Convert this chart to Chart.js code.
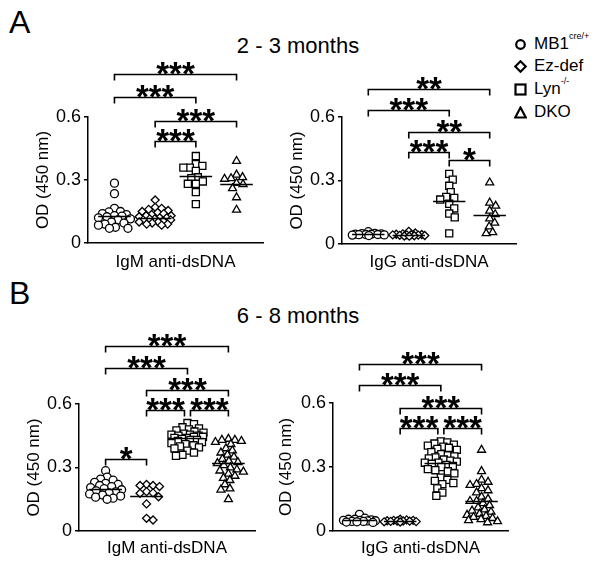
<!DOCTYPE html>
<html><head><meta charset="utf-8">
<script src="https://cdn.jsdelivr.net/npm/chart.js@4.4.0/dist/chart.umd.min.js"></script>
<style>
html,body{margin:0;padding:0;background:#fff;}
body{width:602px;height:564px;position:relative;overflow:hidden;font-family:"Liberation Sans",Arial,sans-serif;color:#000;}
canvas{position:absolute;}
.lbl{position:absolute;line-height:1;white-space:nowrap;}
.panel{font-size:32px;}
.title{font-size:22px;width:220px;text-align:center;}
.leg{position:absolute;left:514px;height:20px;display:flex;align-items:center;font-size:17px;white-space:nowrap;}
.leg svg{width:13px;height:13px;margin-right:7px;flex:none;}
.leg sup{font-size:9px;position:relative;top:-2px;vertical-align:top;line-height:1;}
</style></head>
<body>
<div class="lbl panel" style="left:9px;top:6px">A</div>
<div class="lbl panel" style="left:9px;top:277px">B</div>
<div class="lbl title" style="left:188px;top:35px">2 - 3 months</div>
<div class="lbl title" style="left:188px;top:305px">6 - 8 months</div>

<div class="leg" style="top:34px"><svg viewBox="0 0 13 13"><circle cx="6.5" cy="6.5" r="4.3" fill="#fff" stroke="#000" stroke-width="2.2"/></svg><span>MB1<sup>cre/+</sup></span></div>
<div class="leg" style="top:56px"><svg viewBox="0 0 13 13"><polygon points="6.5,1.3 11.7,6.5 6.5,11.7 1.3,6.5" fill="#fff" stroke="#000" stroke-width="2.2"/></svg><span>Ez-def</span></div>
<div class="leg" style="top:79px"><svg viewBox="0 0 13 13"><rect x="1.5" y="1.5" width="10" height="10" fill="#fff" stroke="#000" stroke-width="2.2"/></svg><span>Lyn<sup>-/-</sup></span></div>
<div class="leg" style="top:102px"><svg viewBox="0 0 13 13"><polygon points="6.5,1.5 11.8,11.5 1.2,11.5" fill="#fff" stroke="#000" stroke-width="2.2" stroke-linejoin="miter"/></svg><span>DKO</span></div>

<canvas id="cAL" width="300" height="235" style="left:0px;top:50px"></canvas>
<canvas id="cAR" width="300" height="235" style="left:254px;top:50px"></canvas>
<canvas id="cBL" width="300" height="244" style="left:0px;top:320px"></canvas>
<canvas id="cBR" width="300" height="244" style="left:250px;top:320px"></canvas>

<script>
// ---------------- DATA ----------------
const groups = ['MB1cre/+', 'Ez-def', 'Lyn-/-', 'DKO'];
const yTicks = [0, 0.3, 0.6];

// 2 - 3 months, IgM anti-dsDNA
const a_igm_mb1 = [0.285, 0.235, 0.165, 0.15, 0.148, 0.14, 0.135, 0.13, 0.128, 0.125, 0.12, 0.115, 0.11, 0.10, 0.095, 0.09, 0.085, 0.075, 0.07, 0.07];
const a_igm_ez  = [0.205, 0.17, 0.165, 0.16, 0.155, 0.15, 0.145, 0.14, 0.135, 0.13, 0.13, 0.125, 0.12, 0.12, 0.115, 0.115, 0.11, 0.11, 0.105, 0.10, 0.10, 0.095, 0.09, 0.09, 0.085];
const a_igm_lyn = [0.414, 0.375, 0.367, 0.359, 0.359, 0.343, 0.313, 0.309, 0.293, 0.282, 0.282, 0.242, 0.185];
const a_igm_dko = [0.39, 0.325, 0.313, 0.308, 0.305, 0.285, 0.28, 0.26, 0.217, 0.158];
const a_igm_medians = [0.13, 0.12, 0.32, 0.28];
const a_igm_brackets = [[1, 4, 0.804, '***'], [1, 3, 0.695, '***'], [2, 4, 0.581, '***'], [2, 3, 0.486, '***']];

// 2 - 3 months, IgG anti-dsDNA
const a_igg_mb1 = [0.058, 0.05, 0.049, 0.048, 0.047, 0.046, 0.045, 0.045, 0.044, 0.043, 0.042, 0.04];
const a_igg_ez  = [0.06, 0.052, 0.048, 0.046, 0.045, 0.044, 0.043, 0.043, 0.042, 0.041, 0.04, 0.039, 0.038, 0.037];
const a_igg_lyn = [0.331, 0.304, 0.275, 0.245, 0.222, 0.218, 0.21, 0.19, 0.168, 0.144, 0.126, 0.05];
const a_igg_dko = [0.29, 0.195, 0.18, 0.157, 0.14, 0.12, 0.10, 0.082, 0.055, 0.05];
const a_igg_medians = [0.045, 0.043, 0.205, 0.137];
const a_igg_brackets = [[1, 4, 0.732, '**'], [1, 3, 0.633, '***'], [2, 4, 0.529, '**'], [2, 3, 0.435, '***'], [3, 4, 0.397, '*']];

// 6 - 8 months, IgM anti-dsDNA
const b_igm_mb1 = [0.285, 0.255, 0.245, 0.24, 0.23, 0.225, 0.22, 0.215, 0.21, 0.205, 0.20, 0.195, 0.19, 0.185, 0.18, 0.175, 0.17, 0.165, 0.16, 0.155, 0.15];
const b_igm_ez  = [0.22, 0.215, 0.215, 0.21, 0.186, 0.18, 0.178, 0.162, 0.128, 0.06, 0.052];
const b_igm_lyn = [0.51, 0.505, 0.49, 0.485, 0.48, 0.475, 0.47, 0.465, 0.46, 0.455, 0.455, 0.45, 0.45, 0.445, 0.445, 0.44, 0.44, 0.435, 0.43, 0.43, 0.425, 0.42, 0.415, 0.41, 0.405, 0.40, 0.395, 0.39, 0.38, 0.37, 0.36, 0.355];
const b_igm_dko = [0.435, 0.43, 0.43, 0.425, 0.42, 0.41, 0.39, 0.38, 0.37, 0.36, 0.35, 0.34, 0.33, 0.325, 0.32, 0.31, 0.30, 0.29, 0.285, 0.28, 0.27, 0.26, 0.25, 0.24, 0.22, 0.20, 0.195, 0.15];
const b_igm_medians = [0.20, 0.165, 0.44, 0.32];
const b_igm_brackets = [[1, 4, 0.874, '***'], [1, 3, 0.77, '***'], [2, 4, 0.666, '***'], [2, 3, 0.572, '***'], [3, 4, 0.572, '***'], [1, 2, 0.34, '*']];

// 6 - 8 months, IgG anti-dsDNA
const b_igg_mb1 = [0.078, 0.06, 0.055, 0.055, 0.052, 0.05, 0.05, 0.048, 0.047, 0.045, 0.045, 0.043, 0.042, 0.04];
const b_igg_ez  = [0.055, 0.052, 0.05, 0.05, 0.048, 0.047, 0.047, 0.046, 0.045, 0.044, 0.043, 0.042];
const b_igg_lyn = [0.42, 0.415, 0.41, 0.405, 0.40, 0.395, 0.39, 0.385, 0.38, 0.37, 0.36, 0.355, 0.35, 0.345, 0.34, 0.335, 0.33, 0.325, 0.32, 0.32, 0.315, 0.31, 0.305, 0.30, 0.29, 0.285, 0.28, 0.27, 0.25, 0.24, 0.235, 0.225, 0.22, 0.20, 0.18, 0.165];
const b_igg_dko = [0.38, 0.28, 0.24, 0.23, 0.22, 0.215, 0.20, 0.19, 0.18, 0.16, 0.15, 0.14, 0.14, 0.13, 0.12, 0.11, 0.10, 0.095, 0.09, 0.08, 0.075, 0.07, 0.065, 0.06, 0.055, 0.05, 0.045, 0.04];
const b_igg_medians = [0.05, 0.047, 0.32, 0.14];
const b_igg_brackets = [[1, 4, 0.783, '***'], [1, 3, 0.684, '***'], [2, 4, 0.577, '***'], [2, 3, 0.483, '***'], [3, 4, 0.483, '***']];

// ---------------- LAYOUT / STYLE ----------------
const FONT = '"Liberation Sans", Arial, Helvetica, sans-serif';
const STAR_FONT = 'bold 33px "Liberation Sans", Arial, sans-serif';
const X_MIN = 0.35, X_MAX = 4.65;
const POINT_STYLES = ['circle', 'rectRot', 'rect', 'triangle'];
const POINT_RADII = [4, 4, 5, 4.6];

// canvas box + plot-area box (page coordinates)
const LAYOUT = {
  cAL: {cx: 0,   cy: 50,  cw: 300, ch: 235, l: 88,  t: 117, r: 263, b: 243, ytx: 43,  xty: 262},
  cAR: {cx: 254, cy: 50,  cw: 300, ch: 235, l: 342, t: 117, r: 516, b: 244, ytx: 297, xty: 262},
  cBL: {cx: 0,   cy: 320, cw: 300, ch: 244, l: 79,  t: 404, r: 255, b: 531, ytx: 34,  xty: 548},
  cBR: {cx: 250, cy: 320, cw: 300, ch: 244, l: 333, t: 403, r: 508, b: 531, ytx: 286, xty: 548}
};

// beeswarm-like horizontal spreading of points (computed, not typed)
function swarm(values, pxPerX, pxPerY, minD, maxOff) {
  const idx = values.map((v, i) => i).sort((a, b) => values[b] - values[a]);
  const placed = [];
  const off = new Array(values.length).fill(0);
  const cands = [0];
  for (let k = 0.5; k <= maxOff; k += 0.5) { cands.push(k, -k); }
  for (const i of idx) {
    const py = values[i] * pxPerY;
    let best = 0, bestScore = -1;
    for (const c of cands) {
      let md = Infinity;
      for (const p of placed) {
        const d = Math.hypot(p[0] - c, p[1] - py);
        if (d < md) md = d;
      }
      if (md >= minD) { best = c; break; }
      if (md > bestScore) { bestScore = md; best = c; }
    }
    placed.push([best, py]);
    off[i] = best / pxPerX;
  }
  return off;
}

const annotPlugin = {
  id: 'annot',
  afterDatasetsDraw(chart, args, opts) {
    const {ctx, scales: {x, y}} = chart;
    ctx.save();
    ctx.strokeStyle = '#000';
    ctx.lineWidth = 1.4;
    opts.medians.forEach((m, i) => {
      const yy = Math.round(y.getPixelForValue(m)) + 0.5;
      ctx.beginPath();
      ctx.moveTo(x.getPixelForValue(i + 1 - 0.4), yy);
      ctx.lineTo(x.getPixelForValue(i + 1 + 0.4), yy);
      ctx.stroke();
    });
    ctx.restore();
  },
  afterDraw(chart, args, opts) {
    const {ctx, scales: {x, y}} = chart;
    const br = opts.brackets;
    ctx.save();
    ctx.strokeStyle = '#000';
    ctx.fillStyle = '#000';
    ctx.lineWidth = 1.6;
    ctx.lineJoin = 'miter';
    br.forEach((b) => {
      const [from, to, lvl, label] = b;
      let x1 = x.getPixelForValue(from);
      let x2 = x.getPixelForValue(to);
      if (br.some(o => o !== b && o[2] === lvl && o[0] === to)) x2 -= 3;
      if (br.some(o => o !== b && o[2] === lvl && o[1] === from)) x1 += 3;
      const yy = Math.round(y.getPixelForValue(lvl)) + 0.5;
      ctx.beginPath();
      ctx.moveTo(x1, yy + 6);
      ctx.lineTo(x1, yy);
      ctx.lineTo(x2, yy);
      ctx.lineTo(x2, yy + 6);
      ctx.stroke();
      ctx.font = STAR_FONT;
      ctx.textAlign = 'center';
      ctx.textBaseline = 'alphabetic';
      ctx.fillText(label, (x1 + x2) / 2, yy + 10);
    });
    ctx.restore();
  }
};

function makePanel(id, series, medians, brackets, xTitle) {
  const L = LAYOUT[id];
  const pxPerX = (L.r - L.l) / (X_MAX - X_MIN);
  const pxPerY = (L.b - L.t) / 0.6;
  const datasets = series.map((vals, gi) => {
    const off = swarm(vals, pxPerX, pxPerY, 6.5, 16);
    return {
      label: groups[gi],
      data: vals.map((v, i) => ({x: gi + 1 + off[i], y: v})),
      pointStyle: POINT_STYLES[gi],
      pointRadius: POINT_RADII[gi],
      pointBackgroundColor: '#fff',
      pointBorderColor: '#000',
      pointBorderWidth: 1.3,
      showLine: false,
      clip: false
    };
  });
  const yW = L.l - L.cx;
  const xH = (L.cy + L.ch) - L.b;
  return new Chart(document.getElementById(id), {
    type: 'scatter',
    data: {datasets},
    options: {
      responsive: false,
      animation: false,
      events: [],
      layout: {padding: {left: 0, top: L.t - L.cy, right: (L.cx + L.cw) - L.r, bottom: 0}},
      plugins: {
        legend: {display: false},
        tooltip: {enabled: false},
        annot: {medians, brackets}
      },
      scales: {
        x: {
          type: 'linear', min: X_MIN, max: X_MAX,
          afterFit: (s) => { s.height = xH; },
          ticks: {display: false},
          grid: {display: false},
          border: {display: true, color: '#000', width: 1.5},
          title: {display: true, text: xTitle, color: '#000', font: {size: 17, family: FONT},
                  padding: {top: 0, bottom: (L.cy + L.ch) - L.xty - 10.2}}
        },
        y: {
          type: 'linear', min: 0, max: 0.6,
          afterFit: (s) => { s.width = yW; },
          afterBuildTicks: (s) => { s.ticks = yTicks.map(v => ({value: v})); },
          ticks: {callback: (v) => String(v), color: '#000', font: {size: 18, family: FONT}, padding: 3},
          grid: {display: true, drawOnChartArea: false, drawTicks: true, tickLength: 4, color: '#000', lineWidth: 1.5},
          border: {display: true, color: '#000', width: 1.5},
          title: {display: true, text: 'OD (450 nm)', color: '#000', font: {size: 17, family: FONT},
                  padding: {top: L.ytx - L.cx - 10.2, bottom: 0}}
        }
      }
    },
    plugins: [annotPlugin]
  });
}

makePanel('cAL', [a_igm_mb1, a_igm_ez, a_igm_lyn, a_igm_dko], a_igm_medians, a_igm_brackets, 'IgM anti-dsDNA');
makePanel('cAR', [a_igg_mb1, a_igg_ez, a_igg_lyn, a_igg_dko], a_igg_medians, a_igg_brackets, 'IgG anti-dsDNA');
makePanel('cBL', [b_igm_mb1, b_igm_ez, b_igm_lyn, b_igm_dko], b_igm_medians, b_igm_brackets, 'IgM anti-dsDNA');
makePanel('cBR', [b_igg_mb1, b_igg_ez, b_igg_lyn, b_igg_dko], b_igg_medians, b_igg_brackets, 'IgG anti-dsDNA');
</script>
</body></html>
